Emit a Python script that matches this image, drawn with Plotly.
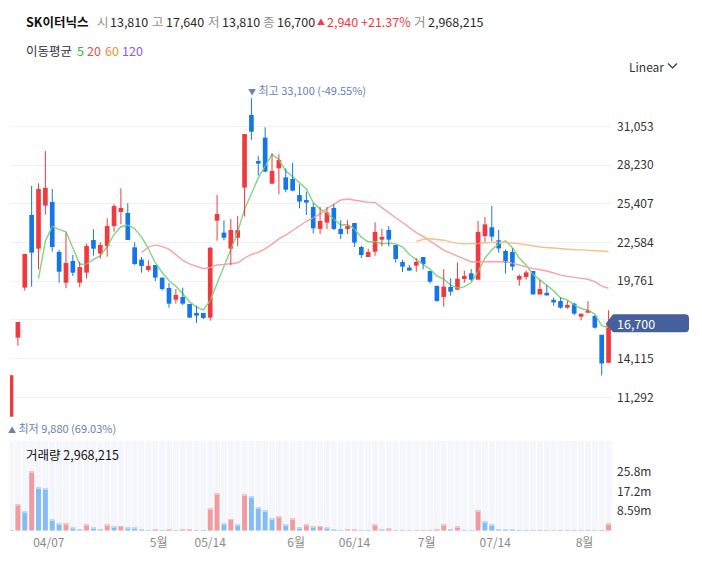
import numpy as np
import pandas as pd
import plotly.graph_objects as go

# ---------------- data ----------------
holidays = ["2024-04-10", "2024-05-01", "2024-05-06", "2024-05-15", "2024-06-06"]
dates = [d for d in pd.bdate_range("2024-03-29", "2024-08-06")
         if d.strftime("%Y-%m-%d") not in holidays]

opens = [9880, 15640, 19290, 24590, 22130, 25270, 25530, 21890, 19650, 21230,
         19650, 20380, 22760, 21770, 22330, 23780, 24810, 24730, 22230, 21330,
         20580, 20940, 20020, 19260, 18410, 18610, 18100, 17440, 17440, 17100,
         24170, 23300, 22130, 22930, 26580, 31880, 28520, 30230, 26870, 27990,
         27330, 27210, 26040, 25680, 25170, 23570, 24030, 25100, 23570, 23570,
         24000, 22250, 21520, 21910, 22790, 23490, 22400, 21160, 20750, 20890,
         21520, 20500, 19410, 18610, 19340, 19140, 19920, 20330, 19870, 23050,
         23690, 22740, 21960, 21890, 19870, 20060, 20500, 18790, 18910, 18400,
         18310, 17830, 18120, 17170, 17460, 17220, 15850, 13810]
highs = [12900, 16780, 21740, 26700, 26900, 29250, 26480, 22030, 23300, 21670,
         21180, 22500, 23540, 22590, 24340, 25390, 26530, 25440, 22590, 21520,
         21280, 20940, 20040, 19630, 19190, 19290, 18100, 17970, 17440, 22250,
         26040, 24200, 24290, 24510, 30490, 33100, 28910, 30980, 29080, 29010,
         27990, 28400, 26820, 26290, 25440, 25170, 25170, 25390, 24200, 24200,
         24000, 22330, 22130, 24050, 23570, 23780, 22400, 21330, 20940, 21430,
         21520, 20500, 19460, 20650, 19970, 21130, 20530, 20650, 24150, 24440,
         25240, 23490, 22060, 22160, 20260, 20550, 20500, 19850, 19480, 18570,
         18570, 18310, 18190, 17390, 18310, 17290, 15850, 17640]
lows = [9880, 15050, 19070, 19360, 20620, 24610, 21910, 19650, 19240, 20140,
        19310, 19940, 21620, 21400, 21550, 23370, 23910, 22760, 20940, 20380,
        20450, 19770, 19070, 17830, 18120, 18020, 17100, 16710, 17000, 16880,
        22710, 22740, 20920, 22300, 24470, 30060, 27460, 27700, 26870, 26090,
        26240, 26310, 25070, 24590, 23250, 23200, 23570, 23490, 22840, 23200,
        22250, 21450, 21520, 21620, 22300, 22300, 21110, 20420, 20530, 20450,
        20620, 19590, 18270, 17900, 18700, 19140, 19650, 19770, 19870, 22630,
        22670, 21840, 20310, 20550, 19430, 19870, 18790, 18790, 18720, 17970,
        17760, 17760, 17290, 16900, 17460, 16300, 12880, 13810]
closes = [12900, 16780, 21740, 21840, 26480, 26560, 22250, 20450, 21090, 20380,
          20790, 22330, 22130, 22400, 23780, 25240, 25100, 22760, 21010, 20870,
          20870, 20020, 19190, 18120, 18750, 18120, 17100, 17250, 17080, 22200,
          24660, 22930, 23490, 23480, 30490, 30660, 28330, 27750, 27800, 28600,
          26430, 26360, 25560, 25490, 23610, 24150, 24760, 23570, 23200, 23780,
          22570, 21670, 21890, 23350, 22980, 22790, 21380, 20820, 20530, 21160,
          21010, 19720, 18310, 19360, 18990, 19940, 20140, 19870, 23350, 23900,
          23010, 22150, 21110, 20820, 20140, 20400, 18790, 19190, 18720, 18210,
          17830, 18020, 17390, 17390, 17630, 16370, 13760, 16700]
volumes = [150000, 11300000, 8300000, 25770000, 18900000, 18600000, 4700000, 3300000, 3350000, 1200000,
           700000, 2500000, 1600000, 700000, 2500000, 2000000, 2050000, 1600000, 1550000, 700000,
           300000, 350000, 300000, 700000, 300000, 350000, 400000, 300000, 100000, 9500000,
           16400000, 3300000, 5100000, 2500000, 16000000, 15100000, 10300000, 9000000, 5500000, 6000000,
           2900000, 5500000, 1600000, 2500000, 2000000, 2050000, 1200000, 700000, 300000, 350000,
           700000, 300000, 150000, 2500000, 700000, 750000, 300000, 150000, 100000, 100000,
           100000, 300000, 350000, 2800000, 700000, 2000000, 150000, 100000, 9000000, 3900000,
           2500000, 700000, 650000, 600000, 300000, 150000, 300000, 150000, 100000, 100000,
           120000, 100000, 120000, 100000, 120000, 100000, 300000, 2968215]

tick_dates = ["2024-04-07", "2024-05-01", "2024-05-14", "2024-06-01",
              "2024-06-14", "2024-07-01", "2024-07-14", "2024-08-01"]
tick_text = ["04/07", "5월", "05/14", "6월", "06/14", "7월", "07/14", "8월"]
price_ticks = [11292, 14115, 16938, 19761, 22584, 25407, 28230, 31053]
vol_ticks = [8590000, 17180000, 25770000]
vol_tick_text = ["8.59m", "17.2m", "25.8m"]
ma_periods = [5, 20, 60, 120]
ma_colors = ["#80d680", "#f7a4a4", "#f7bf8a", "#b9a3f5"]

# ---------------- styling / layout constants ----------------
W, H = 702, 576
PL, PR = 10, 612
FONT = "Noto Sans CJK KR"
RED, BLUE = "#ef3a3f", "#1476e8"
VRED, VBLUE = "#f29b9f", "#84bcf4"
VRED_CAP, VBLUE_CAP = "#f7c3c5", "#bcdbfa"
GRAY, DARK = "#8f8f8f", "#2b2b2b"
TAG = "#46609b"
MARK = "#6c80b6"


def fx(px):
    return (px - PL) / (PR - PL)


def fy(py):
    return 1 - py / H


n = len(closes)
idx = list(range(n))

# direction of each candle
up = []
for i in range(n):
    if closes[i] > opens[i]:
        up.append(True)
    elif closes[i] < opens[i]:
        up.append(False)
    else:
        up.append(i == 0 or closes[i] >= closes[i - 1])

# price y-axis mapping (pixel rows of the main panel)
MAIN_TOP, MAIN_BOT = 82, 436
px_per_won = (397.3 - 126.3) / (31053 - 11292)
y_hi = 31053 + (126.3 - MAIN_TOP) / px_per_won
y_lo = 31053 - (MAIN_BOT - 126.3) / px_per_won
VOL_TOP, VOL_BOT = 441, 530.7
won_per_px_vol = 8590000 / 19.7
vol_max = (VOL_BOT - VOL_TOP) * won_per_px_vol
min_body = 1.0 / px_per_won

fig = go.Figure()

# volume background stripes
fig.add_trace(go.Bar(x=idx, y=[vol_max] * n, width=0.86, marker=dict(color="#f4f6fb", line=dict(width=0)),
                     yaxis="y2", hoverinfo="skip"))
# volume bars: colour by volume change vs previous day
vcol, vcap = [], []
for i in range(n):
    vup = i > 0 and volumes[i] >= volumes[i - 1]
    vcol.append(VRED if vup else VBLUE)
    vcap.append(VRED_CAP if vup else VBLUE_CAP)
fig.add_trace(go.Bar(x=idx, y=volumes, width=0.72, marker=dict(color=vcol, line=dict(width=0)),
                     yaxis="y2", hoverinfo="skip"))
cap = [min(v, won_per_px_vol) for v in volumes]
fig.add_trace(go.Bar(x=idx, y=cap, base=[v - c for v, c in zip(volumes, cap)], width=0.72,
                     marker=dict(color=vcap, line=dict(width=0)), yaxis="y2", hoverinfo="skip"))

# moving averages
cs = pd.Series(closes, dtype=float)
for p, col in zip(ma_periods, ma_colors):
    ma = cs.rolling(p).mean()
    fig.add_trace(go.Scatter(x=idx, y=ma, mode="lines", line=dict(color=col, width=1.4),
                             hoverinfo="skip", connectgaps=False))

# wicks
for flag, col in ((True, RED), (False, BLUE)):
    xs, ys = [], []
    for i in range(n):
        if up[i] == flag:
            xs += [i, i, None]
            ys += [lows[i], highs[i], None]
    fig.add_trace(go.Scatter(x=xs, y=ys, mode="lines", line=dict(color=col, width=1), hoverinfo="skip"))

# bodies
base = [min(o, c) for o, c in zip(opens, closes)]
hgt = [max(abs(c - o), min_body) for o, c in zip(opens, closes)]
fig.add_trace(go.Bar(x=idx, y=hgt, base=base, width=0.68,
                     marker=dict(color=[RED if u else BLUE for u in up], line=dict(width=0)),
                     hoverinfo="skip"))


def date_pos(ds, month_start):
    d = pd.Timestamp(ds)
    i = next(k for k, t in enumerate(dates) if t >= d)
    if month_start or dates[i] != d:
        return i - 0.5
    return i


tick_pos = [date_pos(d, t.endswith("월")) for d, t in zip(tick_dates, tick_text)]

fig.update_layout(
    width=W, height=H, margin=dict(l=PL, r=W - PR, t=0, b=0),
    paper_bgcolor="white", plot_bgcolor="white",
    showlegend=False, hovermode=False, barmode="overlay",
    font=dict(family=FONT, color=DARK, size=12),
    xaxis=dict(domain=[0, 1], range=[-0.15, 87.5], anchor="y2", showgrid=False, zeroline=False,
               showline=False, ticks="", tickvals=tick_pos, ticktext=tick_text, ticklabelstandoff=3,
               tickfont=dict(size=12, color="#8a8a8a"), automargin=False),
    yaxis=dict(domain=[fy(MAIN_BOT), fy(MAIN_TOP)], range=[y_lo, y_hi], anchor="x", side="right",
               showgrid=True, gridcolor="#f0f1f4", gridwidth=1, zeroline=False, showline=False,
               ticks="", tickvals=price_ticks, ticklabelstandoff=4,
               ticktext=["" if v == 16938 else f"{v:,}" for v in price_ticks],
               tickfont=dict(size=12, color="#333333"), automargin=False),
    yaxis2=dict(domain=[fy(VOL_BOT), fy(VOL_TOP)], range=[0, vol_max], anchor="x", side="right",
                showgrid=False, zeroline=False, showline=False, ticks="", ticklabelstandoff=4,
                tickvals=vol_ticks, ticktext=vol_tick_text,
                tickfont=dict(size=12, color="#333333"), automargin=False),
)

# last-price tag
last = closes[-1]
fig.add_shape(type="path", xref="paper", yref="y", xsizemode="pixel", ysizemode="pixel",
              xanchor=1, yanchor=last,
              path="M -6,0 L 1,9 L 73,9 Q 77,9 77,5 L 77,-5 Q 77,-9 73,-9 L 1,-9 Z",
              fillcolor=TAG, line=dict(width=0), layer="above")
fig.add_annotation(x=1, xref="paper", y=last, yref="y", xanchor="left", yanchor="middle",
                   xshift=3, text=f"{last:,}", showarrow=False, font=dict(size=12.5, color="white"))

# highest / lowest markers
imax = int(np.argmax(highs))
imin = int(np.argmin(lows))
hmax, lmin = highs[imax], lows[imin]
fig.add_annotation(x=imax, y=hmax, xref="x", yref="y", xanchor="left", yanchor="bottom",
                   xshift=-5, yshift=-2, showarrow=False,
                   text=f"<span style='font-size:8px'>▼</span> 최고 {hmax:,} ({(last / hmax - 1) * 100:.2f}%)",
                   font=dict(size=11, color=MARK))
fig.add_annotation(x=imin, y=lmin, xref="x", yref="y", xanchor="left", yanchor="top",
                   xshift=-5, yshift=-1, showarrow=False,
                   text=f"<span style='font-size:8px'>▲</span> 최저 {lmin:,} ({(last / lmin - 1) * 100:.2f}%)",
                   font=dict(size=11, color=MARK))

# header
o, h, l, c = opens[-1], highs[-1], lows[-1], closes[-1]
chg = c - closes[-2]
pct = chg / closes[-2] * 100
header = [
    (24.5, "<b>SK이터닉스</b>", "#111111", 12.5),
    (96, "시", GRAY, 12.5), (109, f"{o:,}", DARK, 12.5),
    (151, "고", GRAY, 12.5), (165, f"{h:,}", DARK, 12.5),
    (207, "저", GRAY, 12.5), (221, f"{l:,}", DARK, 12.5),
    (262, "종", GRAY, 12.5), (276, f"{c:,}", DARK, 12.5),
    (316, "▲", RED, 8), (326, f"{chg:,}", RED, 12.5), (360, f"+{pct:.2f}%", RED, 12.5),
    (413, "거", GRAY, 12.5), (427, f"{volumes[-1]:,}", DARK, 12.5),
]
for xp, t, col, sz in header:
    fig.add_annotation(x=fx(xp), y=fy(22), xref="paper", yref="paper", xanchor="left", yanchor="middle",
                       text=t, showarrow=False, font=dict(size=sz, color=col), borderpad=0)

ma_line = [(24.5, "이동평균", "#333333")] + list(zip([76, 86, 104, 121], [str(p) for p in ma_periods],
                                                    ["#35b535", "#f24b4b", "#f5922a", "#8a5cf6"]))
for xp, t, col in ma_line:
    fig.add_annotation(x=fx(xp), y=fy(50), xref="paper", yref="paper", xanchor="left", yanchor="middle",
                       text=t, showarrow=False, font=dict(size=12.5, color=col), borderpad=0)

# Linear selector
fig.add_annotation(x=fx(628), y=fy(66), xref="paper", yref="paper", xanchor="left", yanchor="middle",
                   text="Linear", showarrow=False, font=dict(size=12, color="#333333"), borderpad=0)
fig.add_shape(type="path", xref="paper", yref="paper",
              path=f"M {fx(668)},{fy(63.5)} L {fx(672.5)},{fy(68)} L {fx(677)},{fy(63.5)}",
              line=dict(color="#333333", width=1.2), layer="above")

# volume label
fig.add_annotation(x=fx(24.5), y=fy(454), xref="paper", yref="paper", xanchor="left", yanchor="middle",
                   text=f"거래량 {volumes[-1]:,}", showarrow=False, font=dict(size=12.5, color="#111111"),
                   borderpad=0)

fig.write_html("out.html")
